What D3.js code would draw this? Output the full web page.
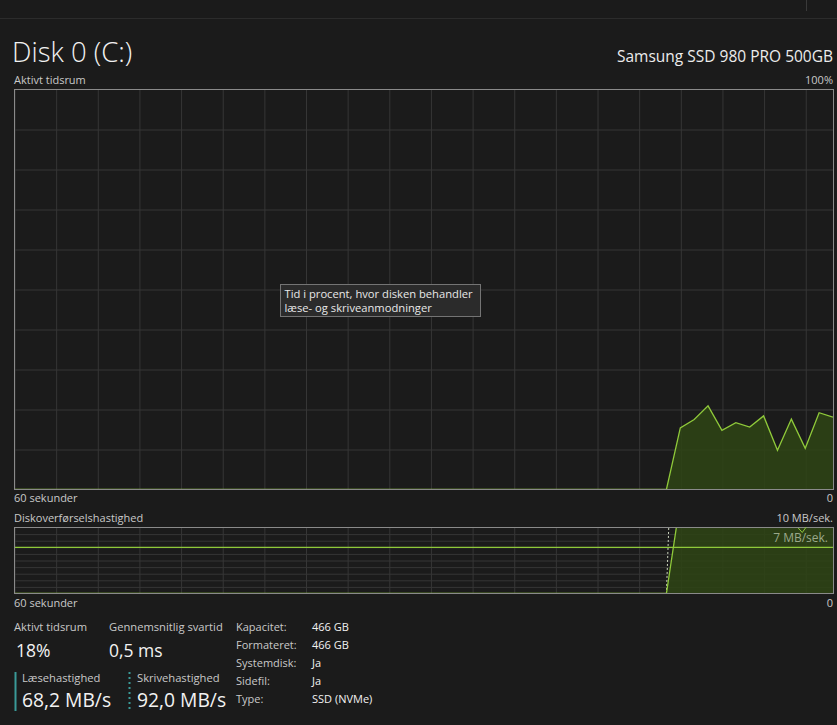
<!DOCTYPE html>
<html><head><meta charset="utf-8">
<script src="https://cdn.jsdelivr.net/npm/d3@7"></script>
<style>
body{margin:0;background:#1b1b1b;}
svg{display:block;font-family:"Segoe UI","Open Sans","Noto Sans",sans-serif;}
</style>
</head><body><svg id="c" width="837" height="725"></svg>
<script>
// ---- data ----
const activeTime = [0,0,0,0,0,0,0,0,0,0, 0,0,0,0,0,0,0,0,0,0, 0,0,0,0,0,0,0,0,0,0, 0,0,0,0,0,0,0,0,0,0, 0,0,0,0,0,0,0,0,
  15.4,17.5,20.9,14.8,16.7,15.6,18.4,9.8,17.6,10.3,19.2,18.1];
const readSpeed = [0,0,0,0,0,0,0,0,0,0, 0,0,0,0,0,0,0,0,0,0, 0,0,0,0,0,0,0,0,0,0, 0,0,0,0,0,0,0,0,0,0, 0,0,0,0,0,0,0,0,
  14,52,71,48,63,55,70,36,61,44,75,68.2];
const writeSpeed = [0,0,0,0,0,0,0,0,0,0, 0,0,0,0,0,0,0,0,0,0, 0,0,0,0,0,0,0,0,0,0, 0,0,0,0,0,0,0,0,0,0, 0,0,0,0,0,0,0,0,
  60,85,97,74,88,79,93,52,86,66,95,92.0];
const timeLabels = ["60 sekunder", "0"];
const activeMaxLabel = "100%";
const transferMaxLabel = "10 MB/sek.";
const transferMarkValue = 7;
const transferMarkLabel = "7 MB/sek.";
const statsLeft = [
  {label:"Aktivt tidsrum", value:"18%"},
  {label:"Gennemsnitlig svartid", value:"0,5 ms"},
  {label:"Læsehastighed", value:"68,2 MB/s"},
  {label:"Skrivehastighed", value:"92,0 MB/s"}
];
const propLabels = ["Kapacitet:","Formateret:","Systemdisk:","Sidefil:","Type:"];
const propValues = ["466 GB","466 GB","Ja","Ja","SSD (NVMe)"];

// ---- drawing ----
const W = 837, H = 725;
const svg = d3.select("#c");
const BG = "#1b1b1b", BORDER = "#8a8a8a", GRID = "#363636";
const LINE = "#8fc93a", FILL = "#2e4414";

svg.append("rect").attr("width", W).attr("height", H).attr("fill", BG);
svg.append("line").attr("x1",0).attr("x2",W).attr("y1",18.5).attr("y2",18.5).attr("stroke","#2c2c2c");
svg.append("line").attr("x1",806.5).attr("x2",806.5).attr("y1",0).attr("y2",11).attr("stroke","#3a3a3a");

const x = d3.scaleLinear().domain([0, 59]).range([14, 833]);
const yA = d3.scaleLinear().domain([0, 100]).range([489.5, 89.5]);
const yT = d3.scaleLinear().domain([0, 10]).range([593.5, 527.5]);
const gridSecs = d3.range(0, 60, 3);

function grid(g, y, hTicks) {
  const [y0, y1] = y.range();
  g.append("g").attr("transform", `translate(0,${y0})`)
    .call(d3.axisBottom(x).tickValues(gridSecs).tickSize(-(y0 - y1)).tickFormat(""))
    .call(a => a.select(".domain").remove())
    .selectAll("line").attr("stroke", GRID).attr("stroke-width", 1)
    .attr("transform", "translate(0.5,0)");
  g.append("g").attr("transform", `translate(${x(0)},0)`)
    .call(d3.axisLeft(y).tickValues(hTicks).tickSize(-(x(59) - x(0))).tickFormat(""))
    .call(a => a.select(".domain").remove())
    .selectAll("line").attr("stroke", GRID).attr("stroke-width", 1);
}

// --- top chart ---
const gA = svg.append("g");
grid(gA, yA, d3.range(10, 100, 10));
svg.append("clipPath").attr("id","clipA").append("rect")
  .attr("x", x(0)).attr("y", yA(100)).attr("width", x(59)-x(0)).attr("height", yA(0)-yA(100));
gA.append("path").datum(activeTime).attr("clip-path","url(#clipA)")
  .attr("d", d3.area().x((d,i)=>x(i)).y0(yA(0)).y1(d=>yA(d)))
  .attr("fill", FILL).attr("fill-opacity", 0.85);
gA.append("path").datum(activeTime).attr("clip-path","url(#clipA)")
  .attr("d", d3.line().x((d,i)=>x(i)).y(d=>yA(d)))
  .attr("fill","none").attr("stroke", LINE).attr("stroke-width", 1.3);
gA.append("rect").attr("x", x(0)+0.5).attr("y", yA(100)).attr("width", x(59)-x(0)).attr("height", yA(0)-yA(100))
  .attr("fill","none").attr("stroke", BORDER);

// --- bottom chart ---
const gT = svg.append("g");
grid(gT, yT, d3.range(1, 10, 1));
svg.append("clipPath").attr("id","clipT").append("rect")
  .attr("x", x(0)).attr("y", yT(10)).attr("width", x(59)-x(0)).attr("height", yT(0)-yT(10));
gT.append("path").datum(readSpeed).attr("clip-path","url(#clipT)")
  .attr("d", d3.area().x((d,i)=>x(i)).y0(yT(0)).y1(d=>yT(d)))
  .attr("fill", FILL).attr("fill-opacity", 0.85);
gT.append("path").datum(writeSpeed).attr("clip-path","url(#clipT)")
  .attr("d", d3.line().x((d,i)=>x(i)).y(d=>yT(d)))
  .attr("fill","none").attr("stroke", "#cfd8c0").attr("stroke-width", 1).attr("stroke-dasharray","2,2");
gT.append("path").datum(readSpeed).attr("clip-path","url(#clipT)")
  .attr("d", d3.line().x((d,i)=>x(i)).y(d=>yT(d)))
  .attr("fill","none").attr("stroke", LINE).attr("stroke-width", 1.3);
gT.append("line").attr("x1", x(0)).attr("x2", x(59)).attr("y1", yT(transferMarkValue)).attr("y2", yT(transferMarkValue))
  .attr("stroke", LINE).attr("stroke-width", 1.2);
gT.append("rect").attr("x", x(0)+0.5).attr("y", yT(10)).attr("width", x(59)-x(0)).attr("height", yT(0)-yT(10))
  .attr("fill","none").attr("stroke", BORDER);
gT.append("path").attr("d", `M${x(57)-7},${yT(10)+0.5} L${x(57)-3},${yT(10)+5} L${x(57)+1},${yT(10)-0.5}`)
  .attr("fill","none").attr("stroke", LINE).attr("stroke-width",1);
gT.append("text").attr("x", 828).attr("y", 541.5).attr("text-anchor","end")
  .attr("font-size", 12).attr("fill", "#9aa88a").text(transferMarkLabel);

// --- texts ---
const LBL = "#c9c9c9";
function txt(xp, yp, s, size, color, anchor) {
  return svg.append("text").attr("x", xp).attr("y", yp).attr("font-size", size)
    .attr("fill", color).attr("text-anchor", anchor || "start").text(s);
}
txt(12, 61.5, "Disk 0 (C:)", 27.5, "#f2f2f2").attr("font-weight", 300);
txt(833, 61.5, "Samsung SSD 980 PRO 500GB", 15.5, "#ececec", "end");
txt(14, 84, "Aktivt tidsrum", 11, LBL);
txt(833, 84, activeMaxLabel, 11, LBL, "end");
txt(14, 502, timeLabels[0], 11, LBL);
txt(833, 502, timeLabels[1], 11, LBL, "end");
txt(14, 522, "Diskoverførselshastighed", 11, LBL);
txt(833, 522, transferMaxLabel, 11, LBL, "end");
txt(14, 607, timeLabels[0], 11, LBL);
txt(833, 607, timeLabels[1], 11, LBL, "end");

// tooltip
svg.append("rect").attr("x", 280.5).attr("y", 284.5).attr("width", 200).attr("height", 32)
  .attr("fill", "#2b2b2b").attr("stroke", "#747474");
txt(284.5, 298, "Tid i procent, hvor disken behandler", 11.2, "#e8e8e8");
txt(284.5, 312, "læse- og skriveanmodninger", 11.2, "#e8e8e8");

// stats
const statPos = [[14,631,16,656.5,17.5],[109,631,109,656.5,17.5],[22,681.5,22,707,19.3],[137,681.5,137,707,19.3]];
statsLeft.forEach((s,i)=>{
  const p = statPos[i];
  txt(p[0], p[1], s.label, 11.2, LBL);
  txt(p[2], p[3], s.value, p[4], "#f2f2f2");
});
svg.append("line").attr("x1",15.5).attr("x2",15.5).attr("y1",672).attr("y2",711).attr("stroke","#3a9a98").attr("stroke-width",2);
svg.append("line").attr("x1",129.5).attr("x2",129.5).attr("y1",672).attr("y2",712).attr("stroke","#3a9a98").attr("stroke-width",2).attr("stroke-dasharray","2,3");
const propY = [630.5, 648.5, 666.5, 684.5, 702.5];
propLabels.forEach((l,i)=>{
  txt(236, propY[i], l, 11, LBL);
  txt(312, propY[i], propValues[i], 11, "#f2f2f2");
});
</script>
</body></html>
